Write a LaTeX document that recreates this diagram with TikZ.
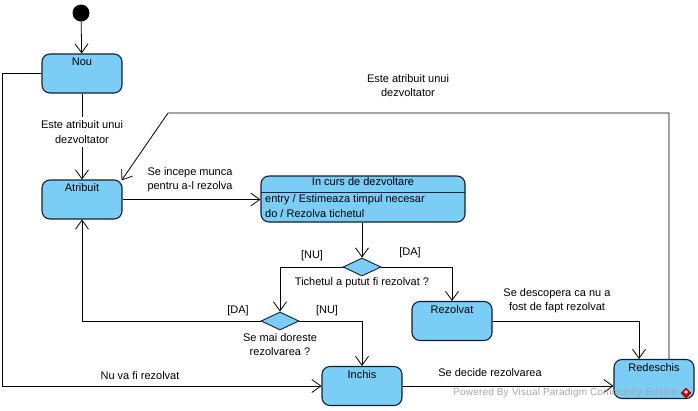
\documentclass[tikz,border=0pt]{standalone}
\usepackage{fontspec}
\setmainfont{Liberation Sans}
\usetikzlibrary{arrows.meta,shapes.geometric}
\definecolor{stfill}{RGB}{122,206,245}
\definecolor{stdraw}{RGB}{20,30,50}
\tikzset{
  state/.style={draw=stdraw, line width=1.1pt, fill=stfill, rounded corners=8pt, minimum width=80pt, minimum height=39pt, inner sep=0pt},
  stlabel/.style={anchor=north, inner sep=0pt, font=\fontsize{11pt}{13pt}\selectfont},
  choice/.style={draw=stdraw, line width=0.9pt, fill=stfill, diamond, aspect=2.1, minimum width=38pt, minimum height=18pt, inner sep=0pt},
  arr/.style={draw=black, line width=0.8pt, -{Straight Barb[length=9pt,width=13pt,line width=0.8pt]}},
  conn/.style={draw=black, line width=0.8pt},
  txt/.style={inner sep=0pt, align=center, font=\fontsize{11pt}{14.5pt}\selectfont},
}
\begin{document}
\begin{tikzpicture}[x=1pt,y=-1pt]
\useasboundingbox (0,0) rectangle (698,410);
\fill[white] (0,0) rectangle (698,410);

% initial
\node[circle, fill=black, minimum size=17pt, inner sep=0pt] (init) at (81,13) {};

% states
\node[state] (nou) at (82,73.5) {};
\node[stlabel] (noulbl) at ([yshift=-4pt]nou.north) {Nou};
\node[state] (atrib) at (82,199.5) {};
\node[stlabel] (atriblbl) at ([yshift=-4pt]atrib.north) {Atribuit};
\node[state, minimum width=204pt, minimum height=46pt] (curs) at (363,199) {};
\node[stlabel] (curslbl) at ([yshift=-2pt]curs.north) {In curs de dezvoltare};
\coordinate (sepl) at (261,192);
\coordinate (sepr) at (465,192);
\draw[draw=stdraw, line width=0.9pt] (sepl) -- (sepr);
\node[anchor=west, inner sep=0pt, font=\fontsize{11pt}{13pt}\selectfont] (entry) at (265,200) {entry / Estimeaza timpul necesar};
\node[anchor=west, inner sep=0pt, font=\fontsize{11pt}{13pt}\selectfont] (dorez) at (265,214) {do / Rezolva tichetul};
\node[state] (rez) at (452,321) {};
\node[stlabel] (rezlbl) at ([yshift=-4pt]rez.north) {Rezolvat};
\node[state] (inch) at (362,386) {};
\node[stlabel] (inchlbl) at ([yshift=-4pt]inch.north) {Inchis};
\node[state] (redes) at (654,379) {};
\node[stlabel] (redeslbl) at ([yshift=-4pt]redes.north) {Redeschis};

% decisions
\node[choice] (d1) at (362,267) {};
\node[choice] (d2) at (280,321) {};

% connectors
\draw[arr] (init) -- (nou);
\draw[arr] (nou) -- (atrib);
\node[txt, fill=white, inner ysep=4pt] (l1) at (82,132) {Este atribuit unui\\dezvoltator};

\draw[arr] (nou.west) -- ++(-39,0) |- (inch.west);
\node[txt] (l2) at (140,376) {Nu va fi rezolvat};

\draw[arr] (atrib.east) -- (atrib.east -| curs.west);
\node[txt] (l3) at (190,179.5) {Se incepe munca\\pentru a-l rezolva};

\draw[arr] (d1.north |- curs.south) -- (d1.north);
\draw[arr] (d1.west) -| (d2.north);
\node[txt] (l4) at (312,256) {[NU]};
\draw[arr] (d1.east) -| (rez.north);
\node[txt] (l5) at (410,253) {[DA]};
\node[txt] (l6) at (362,283) {Tichetul a putut fi rezolvat ?};

\draw[arr] (d2.west) -| (atrib.south);
\node[txt] (l7) at (238,311) {[DA]};
\draw[arr] (d2.east) -| (inch.north);
\node[txt] (l8) at (327,311) {[NU]};
\node[txt] (l9) at (280,344.5) {Se mai doreste\\rezolvarea ?};

\draw[arr] (inch.east) -- (inch.east -| redes.west);
\node[txt] (l10) at (490,373) {Se decide rezolvarea};

\draw[arr] (rez.east) -| ([xshift=-15pt]redes.north);
\node[txt] (l11) at (557,300.5) {Se descopera ca nu a\\fost de fapt rezolvat};

\coordinate (bend) at (168,113);
\draw[arr] ([xshift=15pt]redes.north) |- (bend) -- ([xshift=-1pt,yshift=-1pt]atrib.north east);
\node[txt] (l12) at (408,85.5) {Este atribuit unui\\dezvoltator};

% watermark
\node[inner sep=0pt, text=gray!70, font=\fontsize{10pt}{11pt}\selectfont\addfontfeatures{LetterSpace=2}, anchor=west] (wm) at (453,393) {Powered By\,\,Visual Paradigm Community Edition};
\node[diamond, fill=red!75!black, minimum size=11pt, inner sep=0pt] (logo) at (686,393) {};
\node[diamond, fill=white, minimum size=4pt, inner sep=0pt] (logoin) at (686,392) {};
\end{tikzpicture}
\end{document}
